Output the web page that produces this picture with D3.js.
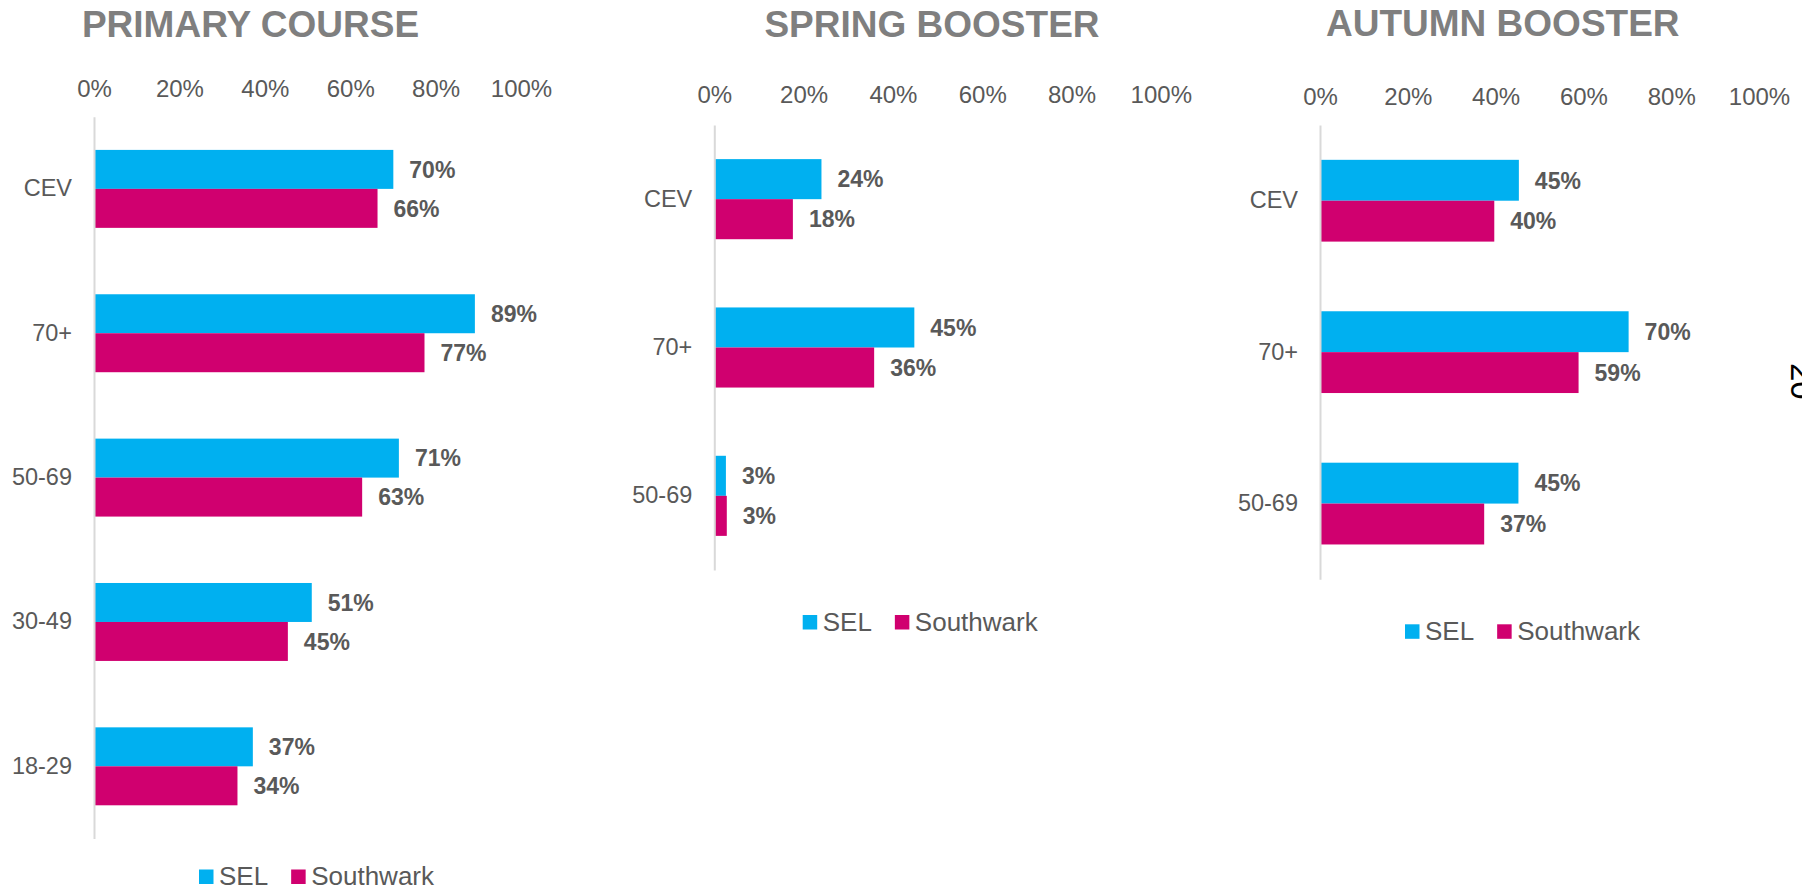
<!DOCTYPE html>
<html>
<head>
<meta charset="utf-8">
<script src="https://cdn.jsdelivr.net/npm/d3@7"></script>
<style>
  body { margin: 0; background: #fff; }
  svg { display: block; font-family: "Liberation Sans", Arial, sans-serif; }
</style>
</head>
<body>
<script>
const width = 1802;
const height = 892;

// data, in percent
const seriesNames = ["SEL", "Southwark"];
const primaryCategories = ["CEV", "70+", "50-69", "30-49", "18-29"];
const primarySEL = [70.1, 89.2, 71.4, 51.0, 37.2];
const primarySouthwark = [66.4, 77.4, 62.8, 45.4, 33.6];

const springCategories = ["CEV", "70+", "50-69"];
const springSEL = [24.0, 44.8, 2.6];
const springSouthwark = [17.6, 35.8, 2.8];

const autumnCategories = ["CEV", "70+", "50-69"];
const autumnSEL = [45.3, 70.3, 45.2];
const autumnSouthwark = [39.7, 58.9, 37.4];

const tickValues = [0, 20, 40, 60, 80, 100];

const color = d3.scaleOrdinal()
    .domain(seriesNames)
    .range(["#00b0f0", "#d0006f"]);

// where each panel sits on the slide
const panels = [
    {title: "PRIMARY COURSE", cats: primaryCategories, sel: primarySEL, sw: primarySouthwark,
     left: 94, right: 521, top: 116.7, bottom: 838.5, titleX: 250.5, titleY: 37.3,
     tickY: 96.7, legendX: 199, legendY: 869.5},
    {title: "SPRING BOOSTER", cats: springCategories, sel: springSEL, sw: springSouthwark,
     left: 714.3, right: 1160.8, top: 125, bottom: 570, titleX: 932, titleY: 36.7,
     tickY: 103.3, legendX: 802.7, legendY: 615},
    {title: "AUTUMN BOOSTER", cats: autumnCategories, sel: autumnSEL, sw: autumnSouthwark,
     left: 1320, right: 1759, top: 125, bottom: 579.3, titleX: 1502.8, titleY: 36,
     tickY: 105, legendX: 1405, legendY: 624.3}
];

const svg = d3.select("body")
    .append("svg")
    .attr("width", width)
    .attr("height", height);

svg.append("rect")
    .attr("width", width)
    .attr("height", height)
    .attr("fill", "#fff");

function drawPanel(p) {
    const g = svg.append("g");

    const x = d3.scaleLinear()
        .domain([0, 100])
        .range([p.left, p.right]);

    const y0 = d3.scaleBand()
        .domain(p.cats)
        .range([p.top, p.bottom])
        .paddingInner(0.46)
        .paddingOuter(0.23);

    const y1 = d3.scaleBand()
        .domain(seriesNames)
        .range([0, y0.bandwidth()]);

    const rows = p.cats.map((c, i) => ({cat: c, values: [
        {key: "SEL", value: p.sel[i]},
        {key: "Southwark", value: p.sw[i]}
    ]}));

    // title
    g.append("text")
        .attr("x", p.titleX)
        .attr("y", p.titleY)
        .attr("text-anchor", "middle")
        .attr("font-size", 37)
        .attr("font-weight", "bold")
        .attr("fill", "#7f7f7f")
        .text(p.title);

    // top axis
    const xAxis = g.append("g")
        .attr("transform", `translate(0,${p.tickY})`)
        .call(d3.axisTop(x)
            .tickValues(tickValues)
            .tickFormat(d => d + "%")
            .tickSize(0)
            .tickPadding(0));
    xAxis.select(".domain").remove();
    xAxis.selectAll("text")
        .attr("font-size", 24)
        .attr("font-family", "Liberation Sans, Arial, sans-serif")
        .attr("fill", "#595959");

    // bars
    const groups = g.append("g")
        .selectAll("g")
        .data(rows)
        .join("g")
        .attr("transform", d => `translate(0,${y0(d.cat)})`);

    groups.selectAll("rect")
        .data(d => d.values)
        .join("rect")
        .attr("x", x(0))
        .attr("y", d => y1(d.key))
        .attr("width", d => x(d.value) - x(0))
        .attr("height", y1.bandwidth())
        .attr("fill", d => color(d.key));

    groups.selectAll("text")
        .data(d => d.values)
        .join("text")
        .attr("x", d => x(d.value) + 16)
        .attr("y", d => y1(d.key) + y1.bandwidth() / 2)
        .attr("dy", "0.36em")
        .attr("font-size", 23)
        .attr("font-weight", "bold")
        .attr("fill", "#595959")
        .text(d => Math.round(d.value) + "%");

    // category axis
    const yAxis = g.append("g")
        .attr("transform", `translate(${x(0)},0)`)
        .call(d3.axisLeft(y0).tickSize(0).tickSizeOuter(0).tickPadding(22));
    yAxis.select(".domain")
        .attr("stroke", "#d9d9d9")
        .attr("stroke-width", 2);
    yAxis.selectAll("text")
        .attr("font-size", 23.5)
        .attr("font-family", "Liberation Sans, Arial, sans-serif")
        .attr("fill", "#595959");

    // legend
    const legend = g.append("g")
        .attr("transform", `translate(${p.legendX},${p.legendY})`);
    let lx = 0;
    seriesNames.forEach(name => {
        legend.append("rect")
            .attr("x", lx)
            .attr("y", 0)
            .attr("width", 14.5)
            .attr("height", 14.5)
            .attr("fill", color(name));
        const t = legend.append("text")
            .attr("x", lx + 20)
            .attr("y", 15.7)
            .attr("font-size", 26)
            .attr("fill", "#595959")
            .text(name);
        lx += 20 + t.node().getComputedTextLength() + 23;
    });
}

panels.forEach(drawPanel);

// slide number, cut off at the right edge
svg.append("text")
    .attr("transform", "translate(1790.5,363) rotate(90)")
    .attr("font-size", 33)
    .attr("fill", "#000")
    .text("20");
</script>
</body>
</html>
